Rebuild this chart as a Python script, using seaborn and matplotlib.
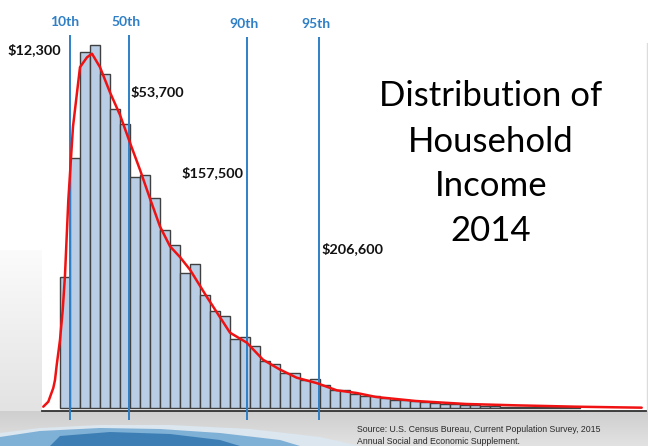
import numpy as np
import pandas as pd
import matplotlib
matplotlib.use("Agg")
import matplotlib.pyplot as plt
import seaborn as sns
from matplotlib.colors import LinearSegmentedColormap
from matplotlib.patches import Polygon

# ---------------- data ----------------
# share of households per income bin (%), bins in order of increasing income
shares = [1.46, 2.78, 3.96, 4.04, 3.71, 3.33, 3.16, 2.57, 2.59, 2.34,
          1.98, 1.81, 1.50, 1.60, 1.26, 1.08, 1.03, 0.77, 0.79, 0.69,
          0.53, 0.49, 0.39, 0.39, 0.31, 0.33, 0.26, 0.20, 0.20, 0.16,
          0.14, 0.14, 0.11, 0.09, 0.09, 0.08, 0.07, 0.06, 0.05, 0.045,
          0.04, 0.04, 0.03, 0.022, 0.02, 0.02, 0.02, 0.017, 0.017, 0.017,
          0.017, 0.013]

# smoothed density curve (x in bin units, y in %)
curve_x = [-1.67, -1.17, -0.67, -0.5, -0.33, 0.0, 0.27, 0.5, 0.83, 1.3,
           2.0, 2.7, 3.2, 4.0, 5.0, 6.0, 7.0, 8.0, 9.0, 10.0,
           11.0, 12.0, 13.0, 14.67, 17.0, 18.67, 20.3, 22.0, 23.67, 25.67,
           27.67, 29.67, 31.6, 35.6, 40.6, 45.6, 51.6, 55.6, 58.17]
curve_y = [0.018, 0.073, 0.226, 0.314, 0.48, 0.76, 1.09, 1.48, 2.31, 3.13,
           3.79, 3.90, 3.94, 3.79, 3.51, 3.26, 2.95, 2.65, 2.33, 2.02,
           1.80, 1.68, 1.54, 1.24, 0.84, 0.73, 0.54, 0.43, 0.34, 0.28,
           0.20, 0.17, 0.126, 0.081, 0.048, 0.033, 0.018, 0.011, 0.007]

pct_names = ["10th", "50th", "90th", "95th"]
pct_values = ["$12,300", "$53,700", "$157,500", "$206,600"]
pct_pos = [0.95, 6.85, 18.67, 25.93]          # position on the bin axis

title_lines = ["Distribution of", "Household", "Income", "2014"]
source_lines = ["Source: U.S. Census Bureau, Current Population Survey, 2015",
                "Annual Social and Economic Supplement."]

# ---------------- style ----------------
sns.set_theme(style="white")
plt.rcParams['font.family'] = ['Lato', 'DejaVu Sans']

W, H = 648, 446
fig = plt.figure(figsize=(W / 100, H / 100), dpi=100)
fig.patch.set_facecolor("white")

# background decoration (slide template) in pixel coordinates
bg = fig.add_axes([0, 0, 1, 1], zorder=0)
bg.set_xlim(0, W)
bg.set_ylim(H, 0)
bg.axis("off")
cm_bottom = LinearSegmentedColormap.from_list("b", ["#cfcfcf", "#d8d8d8", "#e2e2e2"])
bg.imshow(np.linspace(0, 1, 64)[:, None], cmap=cm_bottom, aspect="auto",
          extent=(0, W, H, 411), zorder=0)
cm_left = LinearSegmentedColormap.from_list("l", ["#fbfbfb", "#efefef", "#e3e3e3"])
bg.imshow(np.linspace(0, 1, 64)[:, None], cmap=cm_left, aspect="auto",
          extent=(0, 42, 411, 250), zorder=0)
swoosh_pale = Polygon([(0, 433), (40, 428), (100, 425), (170, 425), (250, 429),
                       (320, 437), (360, 446), (0, 446)],
                      closed=True, facecolor="#dbe6ef", edgecolor="none", zorder=1)
swoosh_light = Polygon([(0, 437), (40, 431), (100, 428), (160, 429), (220, 433),
                        (280, 440), (300, 446), (0, 446)],
                       closed=True, facecolor="#7fb0d6", edgecolor="none", zorder=2)
swoosh_dark = Polygon([(50, 446), (60, 436), (110, 432), (170, 434), (220, 440),
                       (240, 446)],
                      closed=True, facecolor="#3d7fb5", edgecolor="none", zorder=3)
for p in (swoosh_pale, swoosh_light, swoosh_dark):
    bg.add_patch(p)
bg.plot([646.7, 646.7], [43, 410], color="#dcdcdc", lw=1.0, zorder=2)

# main axes: bin axis in x (10 px per bin), share in y
base_py = 408.3
px_per_unit = 90.0
ax = fig.add_axes([42 / W, (H - 410.5) / H, 604 / W, 410.5 / H], zorder=1)
ax.set_facecolor("white")

hist_df = pd.DataFrame({
    "bin": np.arange(len(shares)) + 0.5,
    "share": np.asarray(shares, dtype=float),
})
sns.histplot(data=hist_df, x="bin", weights="share", binwidth=1,
             binrange=(0, len(shares)), ax=ax,
             stat="count", color="#b9cde5", alpha=1.0, edgecolor="#404040",
             linewidth=1.0, zorder=2)

line_tops = [4.148, 4.148, 4.126, 4.126]
for pos, top in zip(pct_pos, line_tops):
    ax.plot([pos, pos], [-0.13, top], color="#2f7fc6", lw=1.4,
            clip_on=False, zorder=4, solid_capstyle="butt")

curve_df = pd.DataFrame({"x": curve_x, "y": curve_y})
sns.lineplot(data=curve_df, x="x", y="y", ax=ax, color="#f01212", lw=1.8,
             sort=False, estimator=None, zorder=5)

ax.set_xlim(-1.8, 58.6)
ax.set_ylim(-2.2 / px_per_unit, base_py / px_per_unit)
for s in ["top", "right", "left"]:
    ax.spines[s].set_visible(False)
ax.spines["bottom"].set_color("#303030")
ax.spines["bottom"].set_linewidth(1.3)
ax.set_xticks([])
ax.set_yticks([])
ax.set_xlabel("")
ax.set_ylabel("")

# percentile names (blue) and values (black)
name_xy = [(0.5, 4.293), (6.65, 4.293), (18.4, 4.27), (25.6, 4.27)]
value_xy = [(-5.27, 3.98), (7.07, 3.514), (12.17, 2.618), (26.17, 1.778)]
for name, (x, y) in zip(pct_names, name_xy):
    ax.text(x, y, name, ha="center", va="center", fontsize=10,
            fontweight="bold", color="#2f7fc6", clip_on=False)
for val, (x, y) in zip(pct_values, value_xy):
    ax.text(x, y, val, ha="left", va="center", fontsize=10.4,
            fontweight="bold", color="#111111", clip_on=False)

# title block
title_baselines = [106.0, 151.5, 196.0, 241.0]
for line, yb in zip(title_lines, title_baselines):
    fig.text(490.8 / W, 1 - yb / H, line, ha="center", va="baseline",
             fontsize=25, color="black")

# source note
for line, yc in zip(source_lines, [429.3, 441.7]):
    fig.text(357 / W, 1 - yc / H, line, ha="left", va="center",
             fontsize=6.3, color="#2a2a2a", family=["Liberation Sans", "DejaVu Sans"])

fig.savefig("out.png", dpi=100, facecolor=fig.get_facecolor())
